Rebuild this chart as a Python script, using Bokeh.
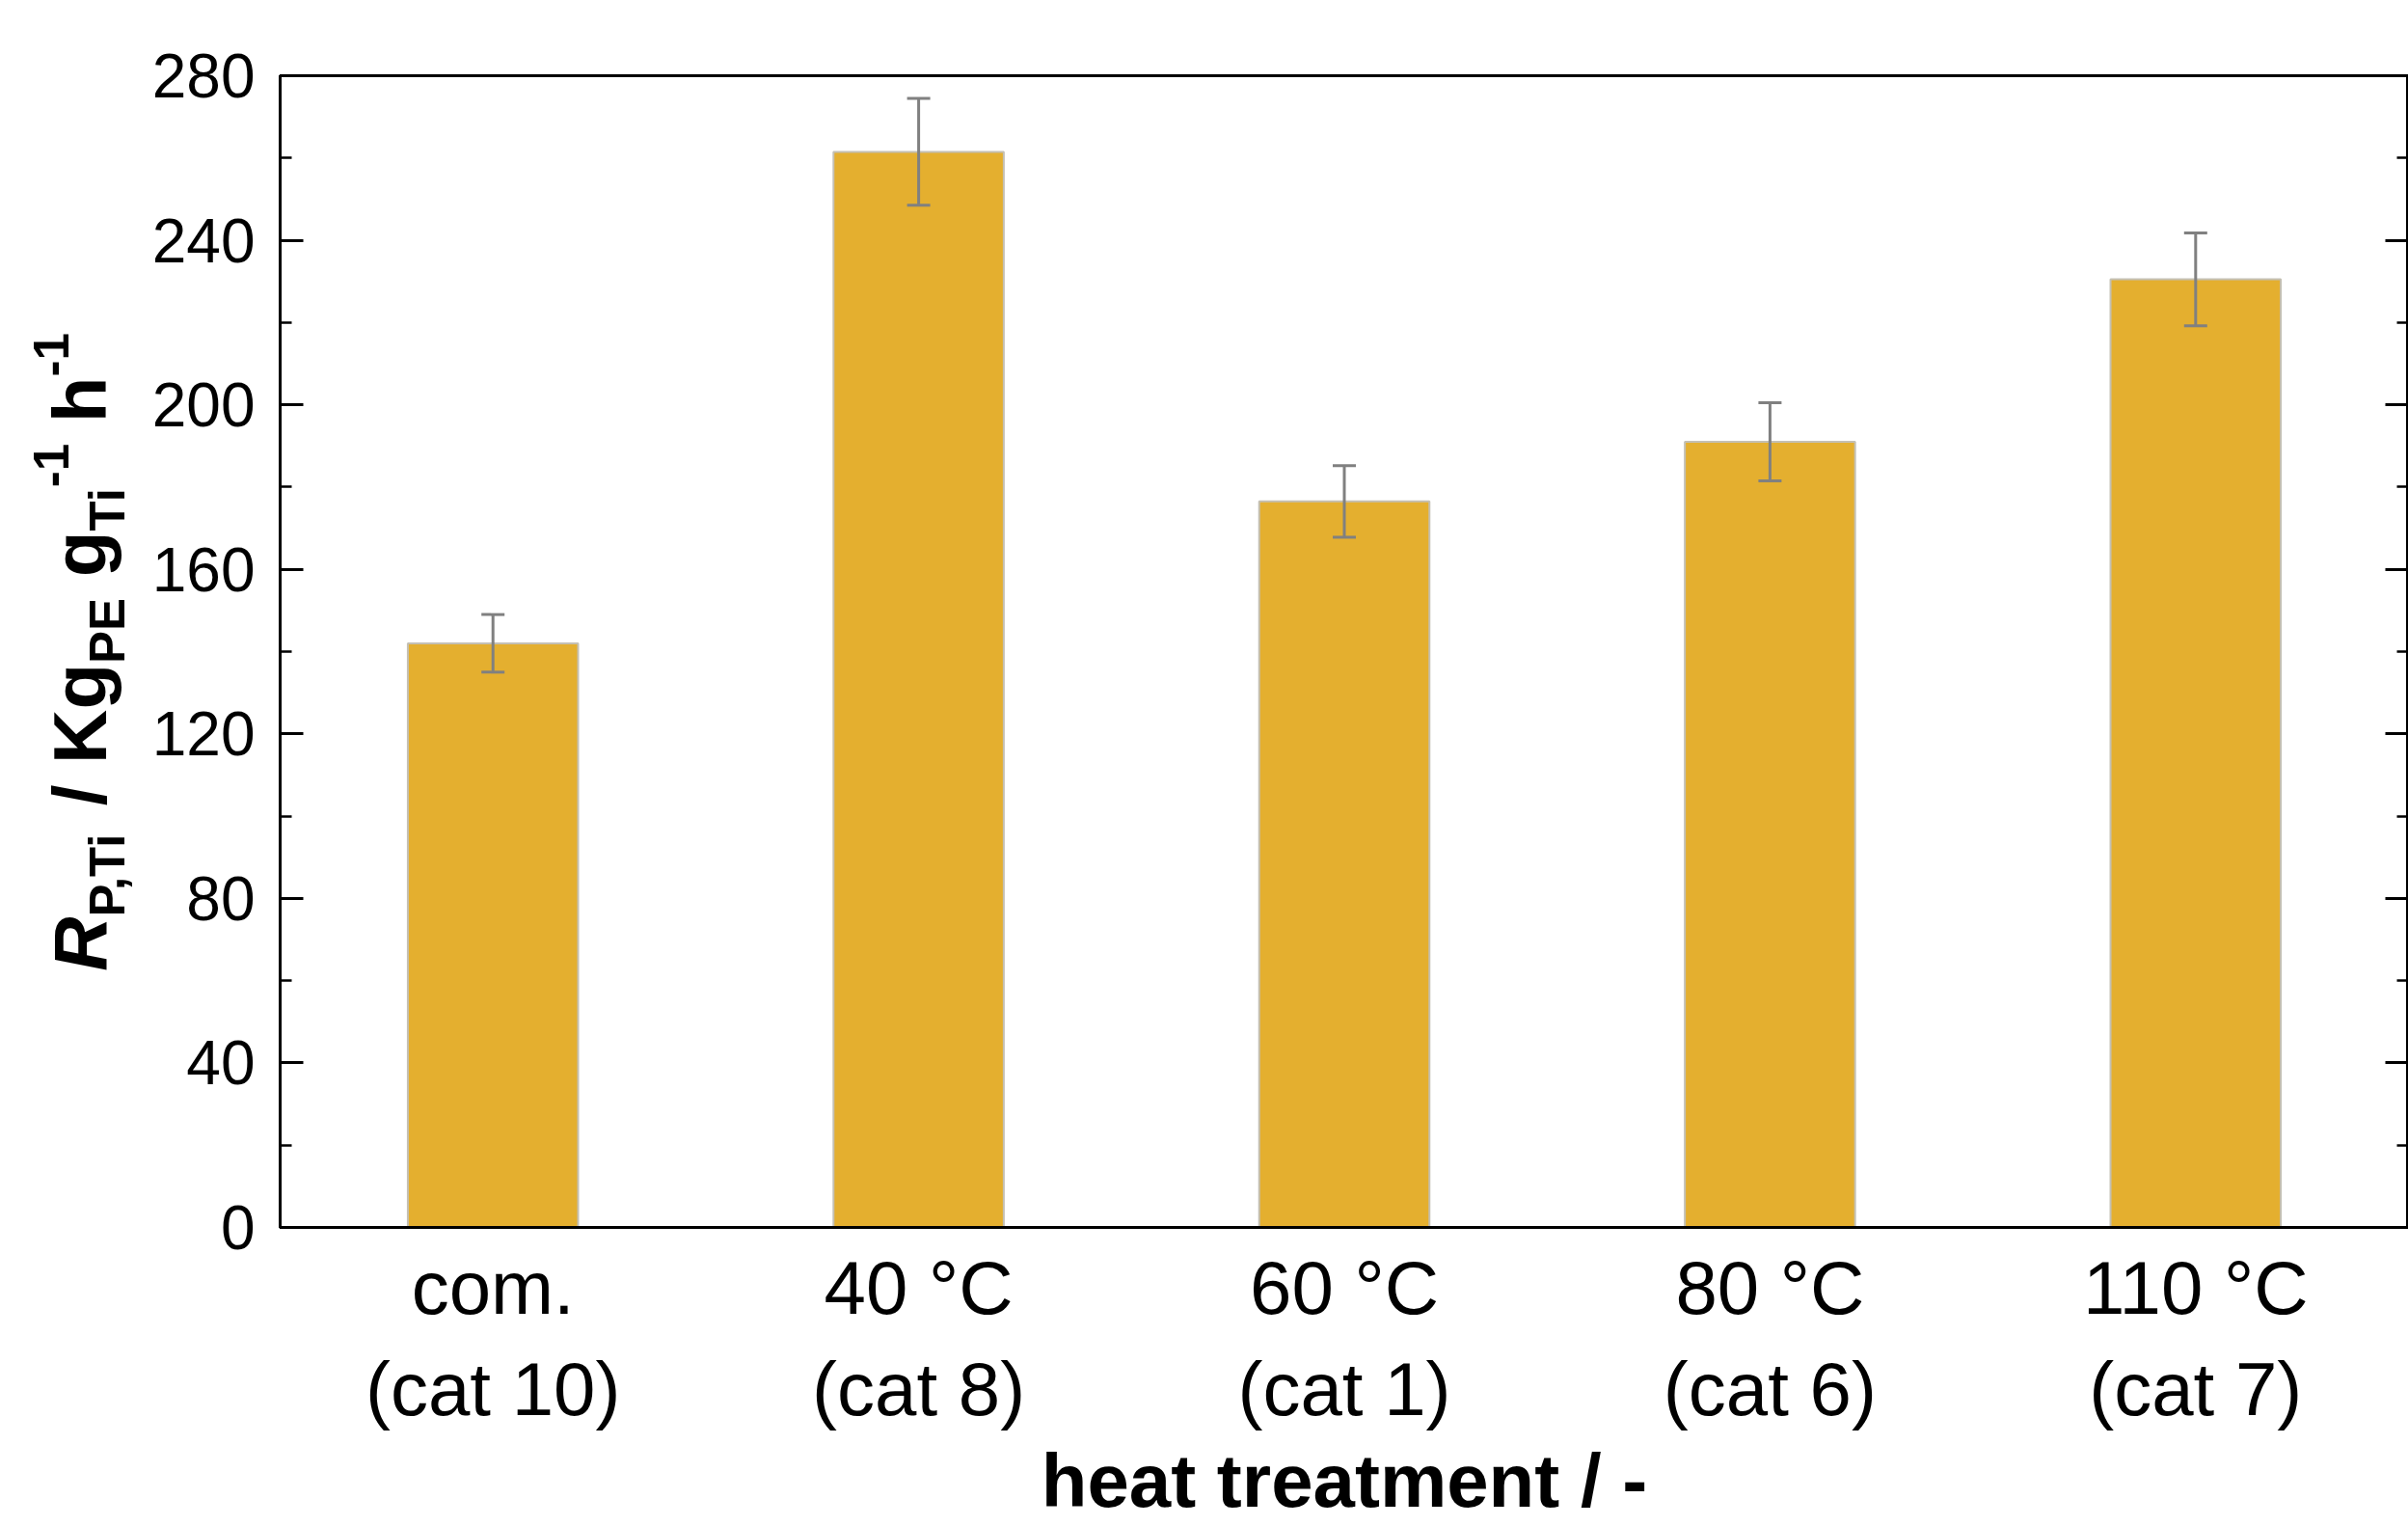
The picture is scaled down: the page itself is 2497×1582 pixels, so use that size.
from math import pi
from bokeh.plotting import figure
from bokeh.layouts import row
from bokeh.models import (ColumnDataSource, FactorRange, Range1d, LinearAxis,
                          SingleIntervalTicker, Whisker, TeeHead)
from bokeh.core.properties import value
from bokeh.embed import file_html
from bokeh.resources import INLINE

# ---- data ----
categories = ["com.\n(cat 10)", "40 °C\n(cat 8)", "60 °C\n(cat 1)", "80 °C\n(cat 6)", "110 °C\n(cat 7)"]
rates = [142.0, 261.5, 176.5, 191.0, 230.5]
errors = [7.0, 13.0, 8.7, 9.5, 11.3]
y_min, y_max, y_step = 0, 280, 40
x_title = "heat treatment / -"

# ---- layout ----
W, H = 2497, 1582
WY = 150                 # width of the strip holding the y-axis title
BL, BT, BB = 290 - WY, 78, 309
FRAME_H = H - BT - BB
FONT = "Liberation Sans"

p = figure(width=W - WY, height=H,
           x_range=FactorRange(factors=categories, range_padding=0),
           y_range=Range1d(y_min, y_max),
           output_backend="svg", toolbar_location=None,
           min_border_left=BL, min_border_top=BT, min_border_bottom=BB,
           min_border_right=0)
p.xgrid.visible = False
p.ygrid.visible = False
p.outline_line_color = "black"
p.outline_line_width = 3

src = ColumnDataSource(dict(
    cat=categories, rate=rates,
    upper=[r + e for r, e in zip(rates, errors)],
    lower=[r - e for r, e in zip(rates, errors)],
))
p.vbar(x="cat", top="rate", width=0.4, source=src,
       fill_color="#E4AF2F", line_color="#C4C0B4", line_width=2)

err_col = "#808080"
w = Whisker(base="cat", upper="upper", lower="lower", source=src,
            line_color=err_col, line_width=3, level="annotation",
            upper_head=TeeHead(size=24, line_color=err_col, line_width=3),
            lower_head=TeeHead(size=24, line_color=err_col, line_width=3))
p.add_layout(w)

# x axis
xa = p.xaxis[0]
xa.axis_line_width = 3
xa.axis_line_color = "black"
xa.major_tick_in = 0
xa.major_tick_out = 0
xa.minor_tick_in = 0
xa.minor_tick_out = 0
xa.major_label_text_font = FONT
xa.major_label_text_font_size = "78px"
xa.major_label_text_color = "black"
xa.major_label_standoff = 18
xa.axis_label = x_title
xa.axis_label_text_font = FONT
xa.axis_label_text_font_style = "bold"
xa.axis_label_text_font_size = "78px"
xa.axis_label_text_color = "black"
xa.axis_label_standoff = 4

# y axes
def style_y(ax, labels=True):
    ax.ticker = SingleIntervalTicker(interval=y_step, num_minor_ticks=2)
    ax.axis_line_width = 3
    ax.axis_line_color = "black"
    ax.major_tick_in = 24
    ax.major_tick_out = 0
    ax.minor_tick_in = 12
    ax.minor_tick_out = 0
    ax.major_tick_line_width = 3
    ax.minor_tick_line_width = 2.5
    ax.major_tick_line_color = "black"
    ax.minor_tick_line_color = "black"
    if labels:
        ax.major_label_text_font = FONT
        ax.major_label_text_font_size = "64px"
        ax.major_label_text_color = "black"
        ax.major_label_standoff = 26
    else:
        ax.major_label_text_font_size = "0px"
        ax.major_label_standoff = 0

style_y(p.yaxis[0])
right = LinearAxis()
style_y(right, labels=False)
p.add_layout(right, "right")

# ---- y-axis title strip (rich text built from pieces) ----
# its frame is aligned with the main frame; data units = pixels
t = figure(frame_width=WY, frame_height=FRAME_H,
           x_range=Range1d(0, WY), y_range=Range1d(0, FRAME_H),
           output_backend="svg", toolbar_location=None,
           x_axis_location=None, y_axis_location=None,
           min_border_left=0, min_border_right=0,
           min_border_top=BT, min_border_bottom=BB)
t.outline_line_color = None
t.xgrid.visible = False
t.ygrid.visible = False

adv = {"R": 722, "P": 667, ",": 278, "T": 611, "i": 278, " ": 278, "/": 278,
       "K": 722, "g": 611, "E": 667, "-": 333, "1": 556, "h": 611}
F, f = 78, 51
SHIFT = 0.42             # renderer places the rotated baseline ~0.42 em lower
BASE = {"main": 115, "sub": 132, "sup": 74}
pieces = [("R", F, "bold italic", "main"), ("P,Ti", f, "bold", "sub"),
          (" / Kg", F, "bold", "main"), ("PE", f, "bold", "sub"),
          (" g", F, "bold", "main"), ("Ti", f, "bold", "sub"),
          ("-1", f, "bold", "sup"), (" h", F, "bold", "main"),
          ("-1", f, "bold", "sup")]

def tw(s, size):
    return sum(adv[c] for c in s) / 1000.0 * size

total = sum(tw(s_, z) for s_, z, _, _ in pieces)
cursor = (FRAME_H - total) / 2.0
for text, size, style, kind in pieces:
    tokens = text.split(" ")
    for i, tok in enumerate(tokens):
        if i > 0:
            cursor += tw(" ", size)
        if tok:
            t.text(x=[BASE[kind] - SHIFT * size], y=[cursor], text=[tok], angle=pi / 2,
                   text_font=value(FONT), text_font_style=style,
                   text_font_size=value(f"{size}px"), text_align="left",
                   text_baseline="alphabetic", text_color="black")
            cursor += tw(tok, size)

layout = row(t, p, spacing=0)
open("out.html", "w").write(file_html(layout, INLINE))
